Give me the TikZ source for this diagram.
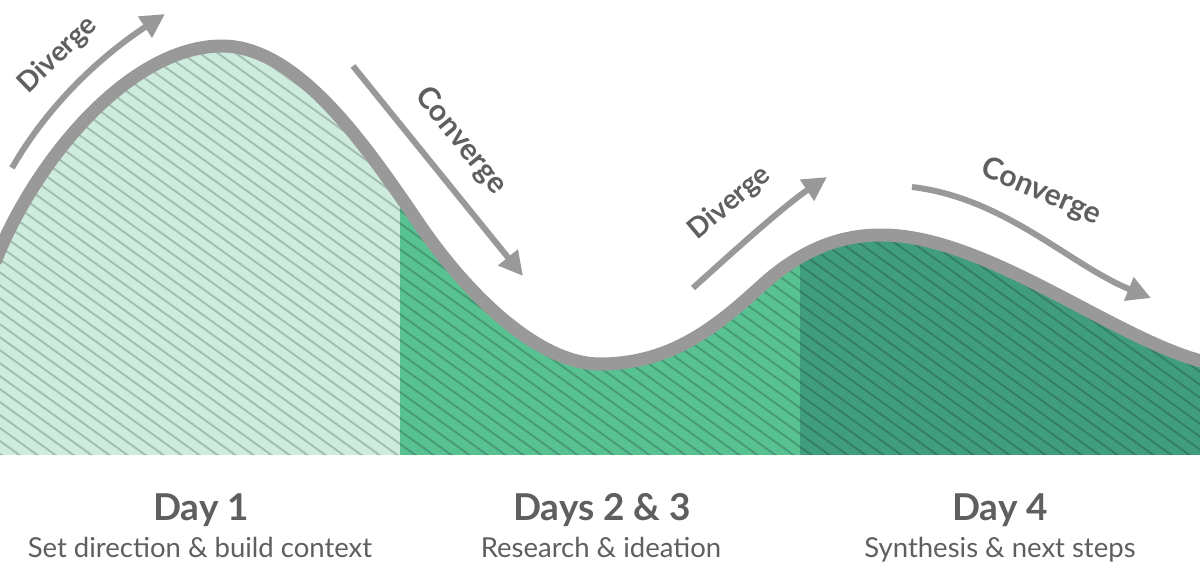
\documentclass[tikz,border=0pt]{standalone}
\usepackage{fontspec}
\setmainfont{Lato}
\usetikzlibrary{arrows.meta}
\definecolor{bandgray}{HTML}{999999}
\definecolor{txtgray}{HTML}{5F5F5F}
\definecolor{greenA}{HTML}{CDECDD}
\definecolor{greenB}{HTML}{58C292}
\definecolor{greenC}{HTML}{409E7E}
\tikzset{
  flowarrow/.style={draw=bandgray, line width=6pt, -{Triangle[length=24pt,width=24pt]}},
  bandline/.style={draw=bandgray, line width=13pt},
  hatchline/.style={draw=black, opacity=0.2, line width=1.9pt},
  phaselabel/.style={text=txtgray, font=\fontsize{28}{30}\selectfont\bfseries, inner sep=0pt},
  phaselabelc/.style={text=txtgray, font=\fontsize{30}{32}\selectfont\bfseries, inner sep=0pt},
  daytitle/.style={text=txtgray, font=\fontsize{37}{40}\selectfont\bfseries, anchor=base, inner sep=0pt},
  daysub/.style={text=txtgray, font=\fontsize{27.5}{30}\selectfont, anchor=base, inner sep=0pt}
}
\def\curvepath{(-5,262) .. controls (35,160) and (130,46) .. (222,46)
  .. controls (300,46) and (370,152) .. (420,225)
  .. controls (470,298) and (540,364) .. (600,364)
  .. controls (670,364) and (715,328) .. (760,287)
  .. controls (800,250) and (840,235) .. (880,235)
  .. controls (985,234) and (1115,340) .. (1205,362)}
\begin{document}
\begin{tikzpicture}[x=1pt,y=-1pt]
\useasboundingbox (0,0) rectangle (1200,582);
\fill[white] (0,0) rectangle (1200,582);
% filled area under the curve
\begin{scope}
  \clip \curvepath -- (1205,455) -- (-5,455) -- cycle;
  \fill[greenA] (-5,0) rectangle (400,455);
  \fill[greenB] (400,0) rectangle (800,455);
  \fill[greenC] (800,0) rectangle (1205,455);
  \foreach \k in {-40,...,68} \draw[hatchline] (\k*18,0) -- ++(680,490);
\end{scope}
\draw[bandline] \curvepath;
% arrows
\coordinate (d1s) at (12,168);
\coordinate (d1e) at (165,14);
\coordinate (c1s) at (353,66);
\coordinate (c1e) at (523,276);
\coordinate (d2s) at (693,288);
\coordinate (d2e) at (827,177);
\coordinate (c2s) at (912,187);
\coordinate (c2e) at (1151,298);
\draw[flowarrow] (d1s) .. controls (45,110) and (95,60) .. (d1e);
\draw[flowarrow] (c1s) -- (c1e);
\draw[flowarrow] (d2s) .. controls (735,250) and (785,205) .. (d2e);
\draw[flowarrow] (c2s) .. controls (1005,198) and (1070,265) .. (c2e);
% phase labels
\node[phaselabel, rotate=44] (lab1) at (58,55) {Diverge};
\node[phaselabelc, rotate=-51] (lab2) at (461,141) {Converge};
\node[phaselabel, rotate=40] (lab3) at (730,203) {Diverge};
\node[phaselabelc, rotate=-23] (lab4) at (1041,192) {Converge};
% day labels
\node[daytitle] (t1) at (201,520) {Day 1};
\node[daysub] (s1) at (200,557) {Set direction \& build context};
\node[daytitle] (t2) at (602,520) {Days 2 \& 3};
\node[daysub] (s2) at (601,557) {Research \& ideation};
\node[daytitle] (t3) at (1000,520) {Day 4};
\node[daysub] (s3) at (1000,557) {Synthesis \& next steps};
\end{tikzpicture}
\end{document}
